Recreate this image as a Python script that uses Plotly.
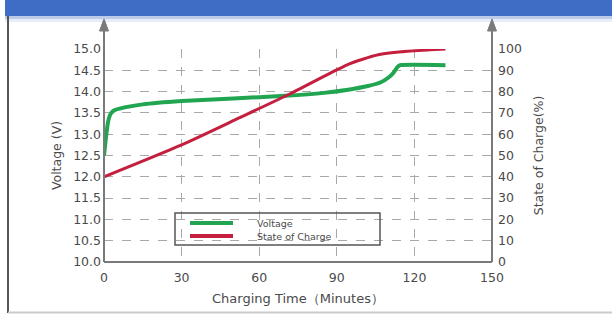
import plotly.graph_objects as go

# ---- data ----
volt_time = [0, 0.8, 1.6, 2.6, 4, 6, 15, 30, 50, 70, 85, 95, 102, 107, 110, 112, 113.5, 114.5, 132]
voltage = [12.5, 12.95, 13.3, 13.48, 13.56, 13.6, 13.7, 13.78, 13.84, 13.9, 13.97, 14.05, 14.13, 14.22, 14.33, 14.45, 14.58, 14.62, 14.62]

soc_time = [0, 30, 52, 72, 88, 94, 100, 106, 115, 126, 132]
soc = [40, 55, 67.5, 79, 89, 92.6, 95.2, 97.3, 98.7, 99.6, 100]

x_ticks = [0, 30, 60, 90, 120, 150]
v_ticks = [10.0, 10.5, 11.0, 11.5, 12.0, 12.5, 13.0, 13.5, 14.0, 14.5, 15.0]
soc_ticks = [0, 10, 20, 30, 40, 50, 60, 70, 80, 90, 100]
legend_names = ["Voltage", "State of Charge"]

# ---- layout geometry (pixels) ----
W, H = 612, 314
L, R, T, B = 104, 492, 49, 262


def px(xp):
    return (xp - L) / (R - L)


def py(yp):
    return (B - yp) / (B - T)


GREEN = "#22a550"
RED = "#c41f3e"
AXIS = "#7a7a7a"
TXT = "#4a4a4a"
FONT = "DejaVu Sans, Verdana, sans-serif"
colors = [GREEN, RED]

fig = go.Figure()
fig.add_trace(go.Scatter(x=volt_time, y=voltage, mode="lines", name=legend_names[0],
                         showlegend=False,
                         line=dict(color=GREEN, width=4, shape="spline", smoothing=0.4)))
fig.add_trace(go.Scatter(x=soc_time, y=soc, mode="lines", name=legend_names[1],
                         yaxis="y2", showlegend=False,
                         line=dict(color=RED, width=3, shape="spline", smoothing=0.6)))

shapes = []
annotations = []
# banner
shapes.append(dict(type="rect", xref="paper", yref="paper", x0=px(5), x1=px(612),
                   y0=py(0), y1=py(16), fillcolor="#3f6dc5", line=dict(width=0), layer="above"))
shapes.append(dict(type="rect", xref="paper", yref="paper", x0=px(5), x1=px(612),
                   y0=py(16), y1=py(19), fillcolor="#bccbea", line=dict(width=0), layer="above"))
shapes.append(dict(type="rect", xref="paper", yref="paper", x0=px(5), x1=px(612),
                   y0=py(19), y1=py(22), fillcolor="#e8eef9", line=dict(width=0), layer="above"))
# frame lines
shapes.append(dict(type="line", xref="paper", yref="paper", x0=px(8), x1=px(8),
                   y0=py(16), y1=py(313), line=dict(color="#555555", width=2)))
shapes.append(dict(type="line", xref="paper", yref="paper", x0=px(8), x1=px(612),
                   y0=py(312.5), y1=py(312.5), line=dict(color="#cccccc", width=2)))
# axis lines with arrows
for xa in (L, R):
    shapes.append(dict(type="line", xref="paper", yref="paper", x0=px(xa), x1=px(xa),
                       y0=py(B), y1=py(28), line=dict(color=AXIS, width=2), layer="above"))
    shapes.append(dict(type="path", xref="paper", yref="paper",
                       path=f"M {px(xa-4.5)} {py(31)} L {px(xa+4.5)} {py(31)} L {px(xa)} {py(19)} Z",
                       fillcolor=AXIS, line=dict(color=AXIS, width=1), layer="above"))
shapes.append(dict(type="line", xref="paper", yref="paper", x0=px(L), x1=px(R),
                   y0=py(B), y1=py(B), line=dict(color=AXIS, width=2), layer="above"))

# legend (box, sample lines, labels)
shapes.append(dict(type="rect", xref="paper", yref="paper", x0=px(175), x1=px(380),
                   y0=py(213), y1=py(245), fillcolor="rgba(255,255,255,0)",
                   line=dict(color="#555555", width=1.5), layer="above"))
for i, (name, col) in enumerate(zip(legend_names, colors)):
    yy = 223 + 13 * i
    shapes.append(dict(type="line", xref="paper", yref="paper", x0=px(190), x1=px(233),
                       y0=py(yy), y1=py(yy), line=dict(color=col, width=4), layer="above"))
    annotations.append(dict(text=name, xref="paper", yref="paper", x=px(255), y=py(yy),
                            xanchor="left", yanchor="middle", showarrow=False,
                            font=dict(size=9.5, color=TXT)))

fig.update_layout(
    width=W, height=H,
    margin=dict(l=L, r=W - R, t=T, b=H - B),
    paper_bgcolor="white", plot_bgcolor="white",
    font=dict(family=FONT, size=12, color=TXT),
    showlegend=False,
    shapes=shapes,
    annotations=annotations,
    xaxis=dict(range=[0, 150], tickvals=x_ticks, ticktext=[str(v) for v in x_ticks],
               showgrid=True, gridcolor="#a8a8a8", griddash="dash", gridwidth=1,
               showline=False, zeroline=False, ticks="", automargin=False,
               ticklabelstandoff=6,
               tickfont=dict(size=12.5, color=TXT),
               title=dict(text="Charging Time（Minutes）", font=dict(size=13, color=TXT), standoff=10)),
    yaxis=dict(range=[10, 15], tickvals=v_ticks, ticktext=[f"{v:.1f}" for v in v_ticks],
               showgrid=True, gridcolor="#a8a8a8", griddash="dash", gridwidth=1,
               showline=False, zeroline=False, ticks="", automargin=False,
               ticklabelstandoff=2,
               tickfont=dict(size=12.5, color=TXT),
               title=dict(text="Voltage (V)", font=dict(size=12.5, color=TXT), standoff=8)),
    yaxis2=dict(range=[0, 100], tickvals=soc_ticks, ticktext=[str(v) for v in soc_ticks],
                overlaying="y", side="right", showgrid=False, zeroline=False, showline=False,
                ticks="", automargin=False, tickfont=dict(size=12.5, color=TXT),
                ticklabelstandoff=5,
                title=dict(text="State of Charge(%)", font=dict(size=12.5, color=TXT), standoff=13)),
)

fig.write_html("out.html", config={"displayModeBar": False},
               post_script="document.body.style.margin='0';")
